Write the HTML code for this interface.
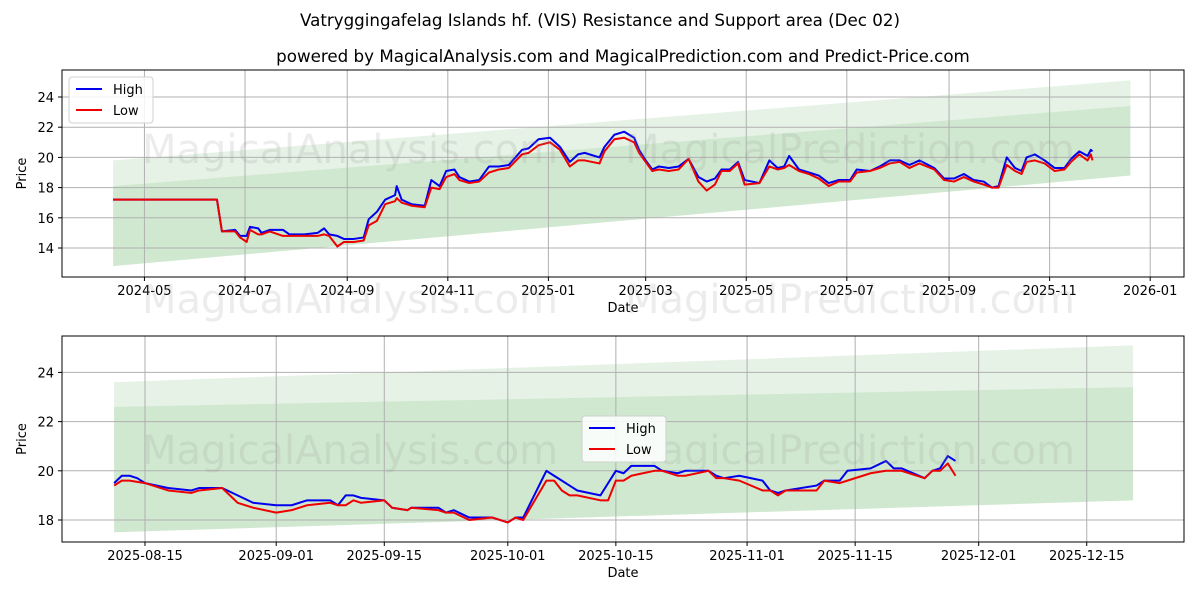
<!DOCTYPE html>
<html><head><meta charset="utf-8"><style>
body{margin:0;background:#fff;}
svg{display:block;font-family:"DejaVu Sans","Liberation Sans",sans-serif;}
</style></head><body>
<svg id="c" width="1200" height="600"></svg>
<script>
// ---- data ----
const topDays = [-19,44,47,55,58,62,64,69,71,76,84,88,97,105,109,112,117,121,127,133,136,141,146,152,153,156,162,170,174,179,183,188,191,197,203,209,215,221,229,233,239,246,252,258,263,267,276,279,285,291,297,300,304,308,312,318,324,330,336,341,346,350,355,360,364,373,379,384,388,391,397,403,409,415,421,428,432,440,446,452,458,464,470,479,485,491,497,503,509,514,518,523,528,532,535,540,546,552,558,562,567,572,574,575];
const topHigh = [17.2,17.2,15.1,15.2,14.8,14.8,15.4,15.3,15.0,15.2,15.2,14.9,14.9,15.0,15.3,14.9,14.8,14.6,14.6,14.7,15.9,16.4,17.2,17.5,18.1,17.2,16.9,16.8,18.5,18.1,19.1,19.2,18.7,18.4,18.5,19.4,19.4,19.5,20.5,20.6,21.2,21.3,20.7,19.7,20.2,20.3,20.0,20.7,21.5,21.7,21.3,20.5,19.8,19.2,19.4,19.3,19.4,19.9,18.7,18.4,18.6,19.2,19.2,19.7,18.5,18.3,19.8,19.3,19.4,20.1,19.2,19.0,18.8,18.3,18.5,18.5,19.2,19.1,19.4,19.8,19.8,19.5,19.8,19.3,18.6,18.6,18.9,18.5,18.4,18.0,18.1,20.0,19.3,19.1,20.0,20.2,19.8,19.3,19.3,19.9,20.4,20.1,20.5,20.4];
const topLow = [17.2,17.2,15.1,15.1,14.7,14.4,15.2,14.9,14.9,15.1,14.8,14.8,14.8,14.8,14.9,14.8,14.1,14.4,14.4,14.5,15.5,15.8,16.9,17.1,17.3,17.0,16.8,16.7,18.0,17.9,18.7,18.9,18.5,18.3,18.4,19.0,19.2,19.3,20.2,20.3,20.8,21.0,20.5,19.4,19.8,19.8,19.6,20.4,21.2,21.3,21.0,20.3,19.7,19.1,19.2,19.1,19.2,19.9,18.4,17.8,18.2,19.1,19.1,19.6,18.2,18.3,19.4,19.2,19.3,19.5,19.1,18.9,18.6,18.1,18.4,18.4,19.0,19.1,19.3,19.6,19.7,19.3,19.6,19.2,18.5,18.4,18.7,18.4,18.2,18.0,18.0,19.5,19.1,18.9,19.7,19.8,19.6,19.1,19.2,19.7,20.2,19.8,20.2,19.8];
const topBandDays = [-19,598];
const topBandOuter = [19.8,25.1];
const topBandUpper = [18.1,23.4];
const topBandLower = [12.8,18.8];
const topXTicks = ["2024-05","2024-07","2024-09","2024-11","2025-01","2025-03","2025-05","2025-07","2025-09","2025-11","2026-01"];
const topXTickDays = [0,61,123,184,245,304,365,426,488,549,610];
const topYTicks = [14,16,18,20,22,24];

const botDays = [-4,-3,-2,-1,0,3,6,7,10,12,14,17,19,21,24,25,26,27,28,31,32,34,34.5,38,39,40,42,45,47,48,49,52,53,54,55,56,59,60,61,62,63,66,67,69,70,73,74,75,77,80,81,82,83,87,88,90,91,94,96,97,98,101,102,103,104,105];
const botHigh = [19.5,19.8,19.8,19.7,19.5,19.3,19.2,19.3,19.3,19.0,18.7,18.6,18.6,18.8,18.8,18.6,19.0,19.0,18.9,18.8,18.5,18.4,18.5,18.5,18.3,18.4,18.1,18.1,17.9,18.1,18.1,20.0,19.8,19.6,19.4,19.2,19.0,19.5,20.0,19.9,20.2,20.2,20.0,19.9,20.0,20.0,19.8,19.7,19.8,19.6,19.2,19.1,19.2,19.4,19.6,19.6,20.0,20.1,20.4,20.1,20.1,19.7,20.0,20.1,20.6,20.4];
const botLow = [19.4,19.6,19.6,19.55,19.5,19.2,19.1,19.2,19.3,18.7,18.5,18.3,18.4,18.6,18.7,18.6,18.6,18.8,18.7,18.8,18.5,18.4,18.5,18.4,18.3,18.3,18.0,18.1,17.9,18.1,18.0,19.6,19.6,19.2,19.0,19.0,18.8,18.8,19.6,19.6,19.8,20.0,20.0,19.8,19.8,20.0,19.7,19.7,19.6,19.2,19.2,19.0,19.2,19.2,19.6,19.5,19.6,19.9,20.0,20.0,20.0,19.7,20.0,20.0,20.3,19.8];
const botBandDays = [-4,128];
const botBandOuter = [23.6,25.1];
const botBandUpper = [22.6,23.4];
const botBandLower = [17.5,18.8];
const botXTicks = ["2025-08-15","2025-09-01","2025-09-15","2025-10-01","2025-10-15","2025-11-01","2025-11-15","2025-12-01","2025-12-15"];
const botXTickDays = [0,17,31,47,61,78,92,108,122];
const botYTicks = [18,20,22,24];

const NS="http://www.w3.org/2000/svg";
const svg=document.getElementById('c');
function mk(tag,attrs,parent,name,inter){
  const e=document.createElementNS(NS,tag);
  for(const k in attrs)e.setAttribute(k,attrs[k]);
  
  
  (parent||svg).appendChild(e);return e;
}
function txt(x,y,s,size,anchor,name,extra){
  const t=mk('text',Object.assign({x:x,y:y,'font-size':size,'text-anchor':anchor||'middle',fill:'#000'},extra||{}),svg,name,false);
  t.textContent=s;return t;
}
const WM={fill:'rgba(150,150,150,0.18)','font-family':'"DejaVu Sans",sans-serif'};
txt(600,26,"Vatryggingafelag Islands hf. (VIS) Resistance and Support area (Dec 02)",16.7,'middle','chart-title');
txt(623,62,"powered by MagicalAnalysis.com and MagicalPrediction.com and Predict-Price.com",16.7,'middle','chart-subtitle');

function panel(p){
  const {x0,x1,y0,y1,dmin,dmax,vmin,vmax,pre}=p;
  const X=d=>x0+(d-dmin)/(dmax-dmin)*(x1-x0);
  const Y=v=>y1-(v-vmin)/(vmax-vmin)*(y1-y0);
  const g=mk('g',{},svg,pre+'-axes',false);
  const bd=p.bandDays;
  function band(top,bot,fill,name){
    const pts=[[X(bd[0]),Y(top[0])],[X(bd[1]),Y(top[1])],[X(bd[1]),Y(bot[1])],[X(bd[0]),Y(bot[0])]];
    mk('polygon',{points:pts.map(q=>q.join(',')).join(' '),fill:fill},g,name,false);
  }
  band(p.outer,p.upper,'rgba(160,210,160,0.28)',pre+'-resistance-band');
  band(p.upper,p.lower,'rgba(120,190,120,0.35)',pre+'-support-band');
  p.xt.forEach((s,i)=>{const x=X(p.xd[i]);
    mk('line',{x1:x,x2:x,y1:y0,y2:y1,stroke:'#b0b0b0','stroke-width':1},g,pre+'-x-grid',false);
    mk('line',{x1:x,x2:x,y1:y1,y2:y1+4,stroke:'#000'},g,pre+'-x-tick',false);
    txt(x,y1+18,s,13,'middle',pre+'-x-tick-label');});
  p.yt.forEach(v=>{const y=Y(v);
    mk('line',{x1:x0,x2:x1,y1:y,y2:y,stroke:'#b0b0b0','stroke-width':1},g,pre+'-y-grid',false);
    mk('line',{x1:x0-4,x2:x0,y1:y,y2:y,stroke:'#000'},g,pre+'-y-tick',false);
    txt(x0-8,y+5,String(v),13,'end',pre+'-y-tick-label');});
  txt(p.wm1x,p.wm1y,"MagicalAnalysis.com",40,'middle',pre+'-watermark',WM);
  txt(p.wm2x,p.wm1y,"MagicalPrediction.com",40,'middle',pre+'-watermark',WM);
  function line(days,vals,color,name){
    mk('polyline',{points:days.map((d,i)=>X(d)+','+Y(vals[i])).join(' '),fill:'none',stroke:color,'stroke-width':2,'stroke-linejoin':'round'},g,name,false);
  }
  line(p.days,p.high,'#0000ee',pre+'-high-line');
  line(p.days,p.low,'#ee0000',pre+'-low-line');
  mk('rect',{x:x0,y:y0,width:x1-x0,height:y1-y0,fill:'none',stroke:'#000','stroke-width':1},g,pre+'-frame',false);
  txt((x0+x1)/2,y1+35,"Date",13,'middle',pre+'-x-axis-title');
  const yl=txt(0,0,"Price",13,'middle',pre+'-y-axis-title');
  yl.setAttribute('transform','translate(26,'+((y0+y1)/2)+') rotate(-90)');
  const lg=mk('g',{},svg,pre+'-legend',false);
  mk('rect',{x:p.lx,y:p.ly,width:84,height:46,rx:3,fill:'rgba(255,255,255,0.85)',stroke:'#d0d0d0'},lg,pre+'-legend-box',false);
  mk('line',{x1:p.lx+7,x2:p.lx+33,y1:p.ly+12,y2:p.ly+12,stroke:'#0000ee','stroke-width':2},lg,pre+'-legend-high-swatch',false);
  mk('line',{x1:p.lx+7,x2:p.lx+33,y1:p.ly+33,y2:p.ly+33,stroke:'#ee0000','stroke-width':2},lg,pre+'-legend-low-swatch',false);
  txt(p.lx+44,p.ly+17,"High",13,'start',pre+'-legend-high-label');
  txt(p.lx+44,p.ly+38,"Low",13,'start',pre+'-legend-low-label');
}
panel({pre:'top',x0:62,x1:1184,y0:70,y1:277,dmin:-50,dmax:630.5,vmin:14-(277-248)/15.1,vmax:14+(248-70)/15.1,
  bandDays:topBandDays,outer:topBandOuter,upper:topBandUpper,lower:topBandLower,
  xt:topXTicks,xd:topXTickDays,yt:topYTicks,days:topDays,high:topHigh,low:topLow,
  wm1x:350,wm2x:850,wm1y:163,lx:69,ly:77});
panel({pre:'bottom',x0:62,x1:1184,y0:336,y1:542,dmin:-10.75,dmax:134.6,vmin:18-(542-520)/24.6,vmax:18+(520-336)/24.6,
  bandDays:botBandDays,outer:botBandOuter,upper:botBandUpper,lower:botBandLower,
  xt:botXTicks,xd:botXTickDays,yt:botYTicks,days:botDays,high:botHigh,low:botLow,
  wm1x:350,wm2x:850,wm1y:464,lx:582,ly:416});
txt(350,313,"MagicalAnalysis.com",40,'middle','watermark-mid',WM);
txt(850,313,"MagicalPrediction.com",40,'middle','watermark-mid',WM);
</script>
</body></html>
